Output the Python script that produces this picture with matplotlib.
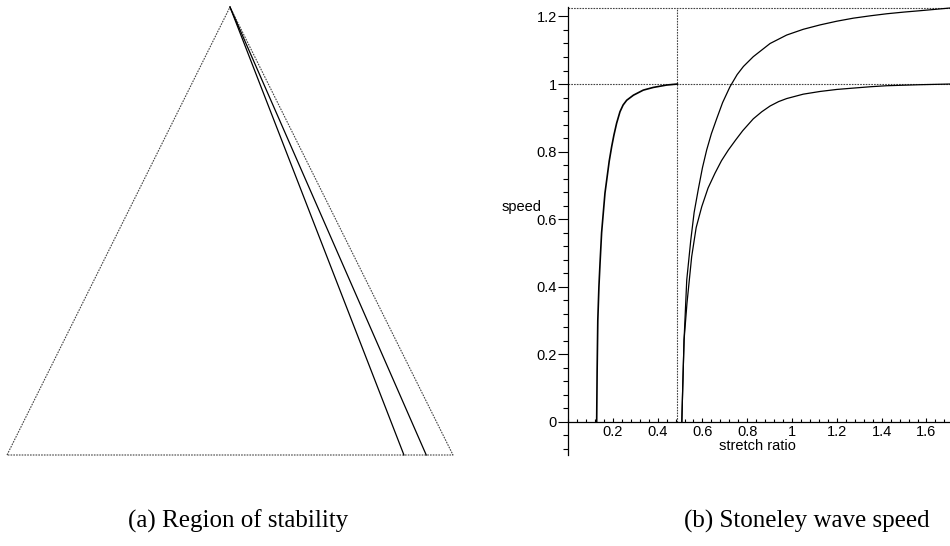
"""
Region of stability and Stoneley wave speed, two panels side by side.
"""
import matplotlib
matplotlib.use('Agg')
import matplotlib.pyplot as plt
from matplotlib.ticker import MultipleLocator, FormatStrFormatter

# left panel: triangle (normalised) and the two stability boundaries
triangle_x = [0.0, 0.5, 1.0]
triangle_y = [0.0, 1.0, 0.0]
boundary_base_x = [0.89, 0.94]

# right panel: Stoneley wave speed vs stretch ratio
left_x = [0.128, 0.130, 0.133, 0.138, 0.143, 0.150, 0.165, 0.184, 0.195, 0.205,
          0.217, 0.232, 0.246, 0.262, 0.292, 0.336, 0.381, 0.44, 0.488]
left_y = [0.0, 0.15, 0.30, 0.40, 0.47, 0.56, 0.677, 0.772, 0.815, 0.849,
          0.884, 0.918, 0.938, 0.952, 0.967, 0.982, 0.990, 0.997, 1.0]

upper_x = [0.508, 0.512, 0.518, 0.530, 0.548, 0.563, 0.582, 0.600, 0.619, 0.64,
           0.664, 0.69, 0.723, 0.755, 0.783, 0.827, 0.902, 0.976, 1.05, 1.125,
           1.2, 1.274, 1.35, 1.423, 1.50, 1.571, 1.705]
upper_y = [0.0, 0.1, 0.242, 0.42, 0.538, 0.62, 0.690, 0.752, 0.805, 0.853,
           0.898, 0.945, 0.992, 1.028, 1.052, 1.081, 1.120, 1.145, 1.162, 1.175,
           1.186, 1.195, 1.202, 1.208, 1.213, 1.217, 1.225]

lower_x = [0.508, 0.512, 0.518, 0.531, 0.552, 0.572, 0.597, 0.625, 0.656, 0.685,
           0.716, 0.749, 0.78, 0.827, 0.865, 0.902, 0.94, 0.976, 1.05, 1.125,
           1.2, 1.274, 1.35, 1.423, 1.571, 1.705]
lower_y = [0.0, 0.1, 0.242, 0.351, 0.489, 0.575, 0.637, 0.692, 0.736, 0.773,
           0.805, 0.835, 0.862, 0.897, 0.918, 0.935, 0.948, 0.957, 0.970, 0.978,
           0.984, 0.988, 0.992, 0.995, 0.998, 1.0]

critical_ratio = 0.487
limit_speeds = [1.0, 1.225]

x_ticks = [0.2, 0.4, 0.6, 0.8, 1.0, 1.2, 1.4, 1.6]
y_ticks = [0.0, 0.2, 0.4, 0.6, 0.8, 1.0, 1.2]

W, H = 950, 546
SANS = 'Liberation Sans'
SERIF = 'Liberation Serif'
DOTTED = dict(color='#444444', linewidth=0.8, linestyle=(0, (1.5, 1.0)))


def draw_region(fig):
    """
    Triangle with the two boundaries from the apex.
    """
    ax = fig.add_axes([7 / W, 91 / H, 446 / W, 448 / H])
    ax.set_xlim(0, 1)
    ax.set_ylim(0, 1)
    ax.axis('off')
    ax.plot(triangle_x + [triangle_x[0]], triangle_y + [triangle_y[0]], clip_on=False, **DOTTED)
    apex_x = triangle_x[1]
    apex_y = triangle_y[1]
    for bx in boundary_base_x:
        ax.plot([apex_x, bx], [apex_y, 0.0], color='black', linewidth=0.9, clip_on=False)


def draw_speed(fig):
    """
    Wave speed curves with Maple-like axes.
    """
    ax = fig.add_axes([568 / W, 91 / H, 382 / W, 448 / H])
    ax.set_xlim(0, 1.705)
    ax.set_ylim(-0.098, 1.228)

    for y in limit_speeds:
        ax.plot([0, 1.705], [y, y], clip_on=False, **DOTTED)
    ax.plot([critical_ratio, critical_ratio], [0, limit_speeds[1]], **DOTTED)

    ax.plot(left_x, left_y, color='black', linewidth=1.2)
    ax.plot(upper_x, upper_y, color='black', linewidth=0.9)
    ax.plot(lower_x, lower_y, color='black', linewidth=0.9)

    ax.spines['top'].set_visible(False)
    ax.spines['right'].set_visible(False)
    ax.spines['bottom'].set_position(('data', 0))
    for s in ('left', 'bottom'):
        ax.spines[s].set_linewidth(0.9)

    ax.set_xticks(x_ticks)
    ax.set_xticklabels(['%g' % v for v in x_ticks])
    ax.set_yticks(y_ticks)
    ax.yaxis.set_major_formatter(FormatStrFormatter('%g'))
    ax.xaxis.set_minor_locator(MultipleLocator(0.04))
    ax.yaxis.set_minor_locator(MultipleLocator(0.04))
    ax.tick_params(axis='y', which='major', direction='out', length=7, width=0.8, pad=1, labelsize=10.5)
    ax.tick_params(axis='y', which='minor', direction='out', length=3.5, width=0.8)
    ax.tick_params(axis='x', which='major', direction='in', length=3, width=0.8, pad=2, labelsize=10.5)
    ax.tick_params(axis='x', which='minor', direction='in', length=2, width=0.8)
    for lab in ax.get_xticklabels() + ax.get_yticklabels():
        lab.set_fontfamily(SANS)

    fig.text(757 / W, 1 - 446 / H, 'stretch ratio', ha='center', va='center',
             fontsize=10.5, family=SANS)
    fig.text(502 / W, 1 - 207 / H, 'speed', ha='left', va='center',
             fontsize=10.5, family=SANS)


def main():
    fig = plt.figure(figsize=(9.5, 5.46), dpi=100)
    draw_region(fig)
    draw_speed(fig)
    fig.text(238 / W, 1 - 521 / H, '(a) Region of stability', ha='center', va='center',
             fontsize=18, family=SERIF)
    fig.text(807 / W, 1 - 521 / H, '(b) Stoneley wave speed', ha='center', va='center',
             fontsize=18, family=SERIF)
    fig.savefig('out.png', dpi=100)
    plt.close(fig)


if __name__ == "__main__":
    main()
